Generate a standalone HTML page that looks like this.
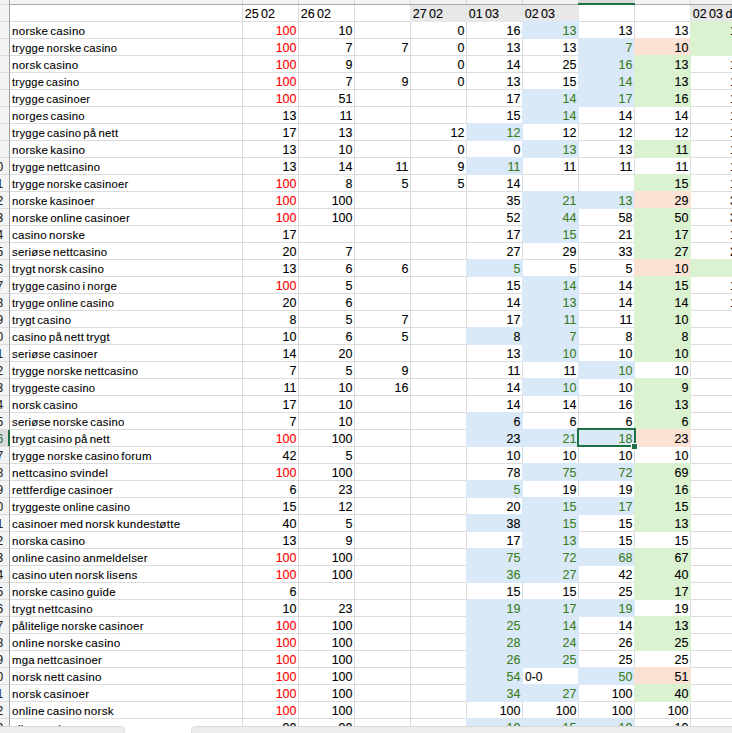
<!DOCTYPE html><html><head><meta charset="utf-8"><style>
html,body{margin:0;padding:0;width:732px;height:733px;overflow:hidden;background:#fff}
body{position:relative;font-family:"Liberation Sans",sans-serif;}
.f{position:absolute}
.t{position:absolute;height:17px;line-height:17px;font-size:12px;white-space:nowrap;color:#000;-webkit-text-stroke:0.1px currentColor}
.n{text-align:right;font-size:12.5px}
.a{word-spacing:-1.4px;font-size:11.5px;letter-spacing:0.24px}
.h{font-size:12.5px;word-spacing:-1px}
</style></head><body>
<div class="f" style="left:10px;top:4px;width:722px;height:1px;background:#dcdcdc"></div>
<div class="f" style="left:10px;top:21px;width:722px;height:1px;background:#dcdcdc"></div>
<div class="f" style="left:10px;top:38px;width:722px;height:1px;background:#dcdcdc"></div>
<div class="f" style="left:10px;top:55px;width:722px;height:1px;background:#dcdcdc"></div>
<div class="f" style="left:10px;top:72px;width:722px;height:1px;background:#dcdcdc"></div>
<div class="f" style="left:10px;top:89px;width:722px;height:1px;background:#dcdcdc"></div>
<div class="f" style="left:10px;top:106px;width:722px;height:1px;background:#dcdcdc"></div>
<div class="f" style="left:10px;top:123px;width:722px;height:1px;background:#dcdcdc"></div>
<div class="f" style="left:10px;top:140px;width:722px;height:1px;background:#dcdcdc"></div>
<div class="f" style="left:10px;top:157px;width:722px;height:1px;background:#dcdcdc"></div>
<div class="f" style="left:10px;top:174px;width:722px;height:1px;background:#dcdcdc"></div>
<div class="f" style="left:10px;top:191px;width:722px;height:1px;background:#dcdcdc"></div>
<div class="f" style="left:10px;top:208px;width:722px;height:1px;background:#dcdcdc"></div>
<div class="f" style="left:10px;top:225px;width:722px;height:1px;background:#dcdcdc"></div>
<div class="f" style="left:10px;top:242px;width:722px;height:1px;background:#dcdcdc"></div>
<div class="f" style="left:10px;top:259px;width:722px;height:1px;background:#dcdcdc"></div>
<div class="f" style="left:10px;top:276px;width:722px;height:1px;background:#dcdcdc"></div>
<div class="f" style="left:10px;top:293px;width:722px;height:1px;background:#dcdcdc"></div>
<div class="f" style="left:10px;top:310px;width:722px;height:1px;background:#dcdcdc"></div>
<div class="f" style="left:10px;top:327px;width:722px;height:1px;background:#dcdcdc"></div>
<div class="f" style="left:10px;top:344px;width:722px;height:1px;background:#dcdcdc"></div>
<div class="f" style="left:10px;top:361px;width:722px;height:1px;background:#dcdcdc"></div>
<div class="f" style="left:10px;top:378px;width:722px;height:1px;background:#dcdcdc"></div>
<div class="f" style="left:10px;top:395px;width:722px;height:1px;background:#dcdcdc"></div>
<div class="f" style="left:10px;top:412px;width:722px;height:1px;background:#dcdcdc"></div>
<div class="f" style="left:10px;top:429px;width:722px;height:1px;background:#dcdcdc"></div>
<div class="f" style="left:10px;top:446px;width:722px;height:1px;background:#dcdcdc"></div>
<div class="f" style="left:10px;top:463px;width:722px;height:1px;background:#dcdcdc"></div>
<div class="f" style="left:10px;top:480px;width:722px;height:1px;background:#dcdcdc"></div>
<div class="f" style="left:10px;top:497px;width:722px;height:1px;background:#dcdcdc"></div>
<div class="f" style="left:10px;top:514px;width:722px;height:1px;background:#dcdcdc"></div>
<div class="f" style="left:10px;top:531px;width:722px;height:1px;background:#dcdcdc"></div>
<div class="f" style="left:10px;top:548px;width:722px;height:1px;background:#dcdcdc"></div>
<div class="f" style="left:10px;top:565px;width:722px;height:1px;background:#dcdcdc"></div>
<div class="f" style="left:10px;top:582px;width:722px;height:1px;background:#dcdcdc"></div>
<div class="f" style="left:10px;top:599px;width:722px;height:1px;background:#dcdcdc"></div>
<div class="f" style="left:10px;top:616px;width:722px;height:1px;background:#dcdcdc"></div>
<div class="f" style="left:10px;top:633px;width:722px;height:1px;background:#dcdcdc"></div>
<div class="f" style="left:10px;top:650px;width:722px;height:1px;background:#dcdcdc"></div>
<div class="f" style="left:10px;top:667px;width:722px;height:1px;background:#dcdcdc"></div>
<div class="f" style="left:10px;top:684px;width:722px;height:1px;background:#dcdcdc"></div>
<div class="f" style="left:10px;top:701px;width:722px;height:1px;background:#dcdcdc"></div>
<div class="f" style="left:10px;top:718px;width:722px;height:1px;background:#dcdcdc"></div>
<div class="f" style="left:10px;top:735px;width:722px;height:1px;background:#dcdcdc"></div>
<div class="f" style="left:242px;top:4px;width:1px;height:729px;background:#dcdcdc"></div>
<div class="f" style="left:298px;top:4px;width:1px;height:729px;background:#dcdcdc"></div>
<div class="f" style="left:354px;top:4px;width:1px;height:729px;background:#dcdcdc"></div>
<div class="f" style="left:410px;top:4px;width:1px;height:729px;background:#dcdcdc"></div>
<div class="f" style="left:466px;top:4px;width:1px;height:729px;background:#dcdcdc"></div>
<div class="f" style="left:522px;top:4px;width:1px;height:729px;background:#dcdcdc"></div>
<div class="f" style="left:578px;top:4px;width:1px;height:729px;background:#dcdcdc"></div>
<div class="f" style="left:634px;top:4px;width:1px;height:729px;background:#dcdcdc"></div>
<div class="f" style="left:690px;top:4px;width:1px;height:729px;background:#dcdcdc"></div>
<div class="f" style="left:410px;top:4px;width:57px;height:18px;background:#e8e8e8"></div>
<div class="f" style="left:466px;top:4px;width:57px;height:18px;background:#e8e8e8"></div>
<div class="f" style="left:522px;top:4px;width:57px;height:18px;background:#e8e8e8"></div>
<div class="f" style="left:690px;top:4px;width:57px;height:18px;background:#e8e8e8"></div>
<div class="f" style="left:522px;top:21px;width:57px;height:18px;background:#dae9f8"></div>
<div class="f" style="left:578px;top:38px;width:57px;height:18px;background:#dae9f8"></div>
<div class="f" style="left:634px;top:38px;width:57px;height:18px;background:#fbe2d5"></div>
<div class="f" style="left:578px;top:55px;width:57px;height:18px;background:#dae9f8"></div>
<div class="f" style="left:634px;top:55px;width:57px;height:18px;background:#daf2d0"></div>
<div class="f" style="left:578px;top:72px;width:57px;height:18px;background:#dae9f8"></div>
<div class="f" style="left:634px;top:72px;width:57px;height:18px;background:#daf2d0"></div>
<div class="f" style="left:522px;top:89px;width:57px;height:18px;background:#dae9f8"></div>
<div class="f" style="left:578px;top:89px;width:57px;height:18px;background:#dae9f8"></div>
<div class="f" style="left:634px;top:89px;width:57px;height:18px;background:#daf2d0"></div>
<div class="f" style="left:522px;top:106px;width:57px;height:18px;background:#dae9f8"></div>
<div class="f" style="left:466px;top:123px;width:57px;height:18px;background:#dae9f8"></div>
<div class="f" style="left:522px;top:140px;width:57px;height:18px;background:#dae9f8"></div>
<div class="f" style="left:634px;top:140px;width:57px;height:18px;background:#daf2d0"></div>
<div class="f" style="left:466px;top:157px;width:57px;height:18px;background:#dae9f8"></div>
<div class="f" style="left:634px;top:174px;width:57px;height:18px;background:#daf2d0"></div>
<div class="f" style="left:522px;top:191px;width:57px;height:18px;background:#dae9f8"></div>
<div class="f" style="left:578px;top:191px;width:57px;height:18px;background:#dae9f8"></div>
<div class="f" style="left:634px;top:191px;width:57px;height:18px;background:#fbe2d5"></div>
<div class="f" style="left:522px;top:208px;width:57px;height:18px;background:#dae9f8"></div>
<div class="f" style="left:634px;top:208px;width:57px;height:18px;background:#daf2d0"></div>
<div class="f" style="left:522px;top:225px;width:57px;height:18px;background:#dae9f8"></div>
<div class="f" style="left:634px;top:225px;width:57px;height:18px;background:#daf2d0"></div>
<div class="f" style="left:634px;top:242px;width:57px;height:18px;background:#daf2d0"></div>
<div class="f" style="left:466px;top:259px;width:57px;height:18px;background:#dae9f8"></div>
<div class="f" style="left:634px;top:259px;width:57px;height:18px;background:#fbe2d5"></div>
<div class="f" style="left:522px;top:276px;width:57px;height:18px;background:#dae9f8"></div>
<div class="f" style="left:634px;top:276px;width:57px;height:18px;background:#daf2d0"></div>
<div class="f" style="left:522px;top:293px;width:57px;height:18px;background:#dae9f8"></div>
<div class="f" style="left:634px;top:293px;width:57px;height:18px;background:#daf2d0"></div>
<div class="f" style="left:522px;top:310px;width:57px;height:18px;background:#dae9f8"></div>
<div class="f" style="left:634px;top:310px;width:57px;height:18px;background:#daf2d0"></div>
<div class="f" style="left:466px;top:327px;width:57px;height:18px;background:#dae9f8"></div>
<div class="f" style="left:522px;top:327px;width:57px;height:18px;background:#dae9f8"></div>
<div class="f" style="left:634px;top:327px;width:57px;height:18px;background:#daf2d0"></div>
<div class="f" style="left:522px;top:344px;width:57px;height:18px;background:#dae9f8"></div>
<div class="f" style="left:634px;top:344px;width:57px;height:18px;background:#daf2d0"></div>
<div class="f" style="left:578px;top:361px;width:57px;height:18px;background:#dae9f8"></div>
<div class="f" style="left:522px;top:378px;width:57px;height:18px;background:#dae9f8"></div>
<div class="f" style="left:634px;top:378px;width:57px;height:18px;background:#daf2d0"></div>
<div class="f" style="left:634px;top:395px;width:57px;height:18px;background:#daf2d0"></div>
<div class="f" style="left:466px;top:412px;width:57px;height:18px;background:#dae9f8"></div>
<div class="f" style="left:634px;top:412px;width:57px;height:18px;background:#daf2d0"></div>
<div class="f" style="left:466px;top:429px;width:57px;height:18px;background:#dae9f8"></div>
<div class="f" style="left:522px;top:429px;width:57px;height:18px;background:#dae9f8"></div>
<div class="f" style="left:578px;top:429px;width:57px;height:18px;background:#dae9f8"></div>
<div class="f" style="left:634px;top:429px;width:57px;height:18px;background:#fbe2d5"></div>
<div class="f" style="left:522px;top:463px;width:57px;height:18px;background:#dae9f8"></div>
<div class="f" style="left:578px;top:463px;width:57px;height:18px;background:#dae9f8"></div>
<div class="f" style="left:634px;top:463px;width:57px;height:18px;background:#daf2d0"></div>
<div class="f" style="left:466px;top:480px;width:57px;height:18px;background:#dae9f8"></div>
<div class="f" style="left:634px;top:480px;width:57px;height:18px;background:#daf2d0"></div>
<div class="f" style="left:522px;top:497px;width:57px;height:18px;background:#dae9f8"></div>
<div class="f" style="left:578px;top:497px;width:57px;height:18px;background:#dae9f8"></div>
<div class="f" style="left:634px;top:497px;width:57px;height:18px;background:#daf2d0"></div>
<div class="f" style="left:466px;top:514px;width:57px;height:18px;background:#dae9f8"></div>
<div class="f" style="left:522px;top:514px;width:57px;height:18px;background:#dae9f8"></div>
<div class="f" style="left:634px;top:514px;width:57px;height:18px;background:#daf2d0"></div>
<div class="f" style="left:522px;top:531px;width:57px;height:18px;background:#dae9f8"></div>
<div class="f" style="left:466px;top:548px;width:57px;height:18px;background:#dae9f8"></div>
<div class="f" style="left:522px;top:548px;width:57px;height:18px;background:#dae9f8"></div>
<div class="f" style="left:578px;top:548px;width:57px;height:18px;background:#dae9f8"></div>
<div class="f" style="left:634px;top:548px;width:57px;height:18px;background:#daf2d0"></div>
<div class="f" style="left:466px;top:565px;width:57px;height:18px;background:#dae9f8"></div>
<div class="f" style="left:522px;top:565px;width:57px;height:18px;background:#dae9f8"></div>
<div class="f" style="left:634px;top:565px;width:57px;height:18px;background:#daf2d0"></div>
<div class="f" style="left:634px;top:582px;width:57px;height:18px;background:#daf2d0"></div>
<div class="f" style="left:466px;top:599px;width:57px;height:18px;background:#dae9f8"></div>
<div class="f" style="left:522px;top:599px;width:57px;height:18px;background:#dae9f8"></div>
<div class="f" style="left:578px;top:599px;width:57px;height:18px;background:#dae9f8"></div>
<div class="f" style="left:466px;top:616px;width:57px;height:18px;background:#dae9f8"></div>
<div class="f" style="left:522px;top:616px;width:57px;height:18px;background:#dae9f8"></div>
<div class="f" style="left:634px;top:616px;width:57px;height:18px;background:#daf2d0"></div>
<div class="f" style="left:466px;top:633px;width:57px;height:18px;background:#dae9f8"></div>
<div class="f" style="left:522px;top:633px;width:57px;height:18px;background:#dae9f8"></div>
<div class="f" style="left:634px;top:633px;width:57px;height:18px;background:#daf2d0"></div>
<div class="f" style="left:466px;top:650px;width:57px;height:18px;background:#dae9f8"></div>
<div class="f" style="left:522px;top:650px;width:57px;height:18px;background:#dae9f8"></div>
<div class="f" style="left:466px;top:667px;width:57px;height:18px;background:#dae9f8"></div>
<div class="f" style="left:578px;top:667px;width:57px;height:18px;background:#dae9f8"></div>
<div class="f" style="left:634px;top:667px;width:57px;height:18px;background:#fbe2d5"></div>
<div class="f" style="left:466px;top:684px;width:57px;height:18px;background:#dae9f8"></div>
<div class="f" style="left:522px;top:684px;width:57px;height:18px;background:#dae9f8"></div>
<div class="f" style="left:634px;top:684px;width:57px;height:18px;background:#daf2d0"></div>
<div class="f" style="left:466px;top:718px;width:57px;height:18px;background:#dae9f8"></div>
<div class="f" style="left:522px;top:718px;width:57px;height:18px;background:#dae9f8"></div>
<div class="f" style="left:578px;top:718px;width:57px;height:18px;background:#dae9f8"></div>
<div class="f" style="left:690px;top:21px;width:57px;height:18px;background:#daf2d0"></div>
<div class="f" style="left:690px;top:38px;width:57px;height:18px;background:#daf2d0"></div>
<div class="f" style="left:690px;top:259px;width:57px;height:18px;background:#daf2d0"></div>
<div class="t h" style="left:244.7px;top:6px">25 02</div>
<div class="t h" style="left:300.7px;top:6px">26 02</div>
<div class="t h" style="left:412.7px;top:6px">27 02</div>
<div class="t h" style="left:468.7px;top:6px">01 03</div>
<div class="t h" style="left:524.7px;top:6px">02 03</div>
<div class="t h" style="left:692.7px;top:6px">02 03 d</div>
<div class="t a" style="left:12px;top:23px;transform:scaleX(1.0084);transform-origin:0 0;">norske casino</div>
<div class="t a" style="left:12px;top:40px;transform:scaleX(0.9740);transform-origin:0 0;">trygge norske casino</div>
<div class="t a" style="left:12px;top:57px;transform:scaleX(1.0061);transform-origin:0 0;">norsk casino</div>
<div class="t a" style="left:12px;top:74px;transform:scaleX(0.9598);transform-origin:0 0;">trygge casino</div>
<div class="t a" style="left:12px;top:91px;transform:scaleX(0.9686);transform-origin:0 0;">trygge casinoer</div>
<div class="t a" style="left:12px;top:108px;transform:scaleX(0.9945);transform-origin:0 0;">norges casino</div>
<div class="t a" style="left:12px;top:125px;transform:scaleX(0.9878);transform-origin:0 0;">trygge casino på nett</div>
<div class="t a" style="left:12px;top:142px;transform:scaleX(1.0084);transform-origin:0 0;">norske kasino</div>
<div class="t a" style="left:12px;top:159px;transform:scaleX(0.9777);transform-origin:0 0;">trygge nettcasino</div>
<div class="t a" style="left:12px;top:176px;transform:scaleX(0.9796);transform-origin:0 0;">trygge norske casinoer</div>
<div class="t a" style="left:12px;top:193px;transform:scaleX(0.9927);transform-origin:0 0;">norske kasinoer</div>
<div class="t a" style="left:12px;top:210px;transform:scaleX(1.0043);transform-origin:0 0;">norske online casinoer</div>
<div class="t a" style="left:12px;top:227px;transform:scaleX(1.0084);transform-origin:0 0;">casino norske</div>
<div class="t a" style="left:12px;top:244px;transform:scaleX(0.9916);transform-origin:0 0;">seriøse nettcasino</div>
<div class="t a" style="left:12px;top:261px;transform:scaleX(1.0055);transform-origin:0 0;">trygt norsk casino</div>
<div class="t a" style="left:12px;top:278px;transform:scaleX(0.9766);transform-origin:0 0;">trygge casino i norge</div>
<div class="t a" style="left:12px;top:295px;transform:scaleX(0.9817);transform-origin:0 0;">trygge online casino</div>
<div class="t a" style="left:12px;top:312px;transform:scaleX(0.9849);transform-origin:0 0;">trygt casino</div>
<div class="t a" style="left:12px;top:329px;transform:scaleX(1.0010);transform-origin:0 0;">casino på nett trygt</div>
<div class="t a" style="left:12px;top:346px;transform:scaleX(0.9872);transform-origin:0 0;">seriøse casinoer</div>
<div class="t a" style="left:12px;top:363px;transform:scaleX(0.9851);transform-origin:0 0;">trygge norske nettcasino</div>
<div class="t a" style="left:12px;top:380px;transform:scaleX(0.9662);transform-origin:0 0;">tryggeste casino</div>
<div class="t a" style="left:12px;top:397px;transform:scaleX(0.9985);transform-origin:0 0;">norsk casino</div>
<div class="t a" style="left:12px;top:414px;transform:scaleX(0.9859);transform-origin:0 0;">seriøse norske casino</div>
<div class="t a" style="left:12px;top:431px;transform:scaleX(1.0010);transform-origin:0 0;">trygt casino på nett</div>
<div class="t a" style="left:12px;top:448px;transform:scaleX(0.9921);transform-origin:0 0;">trygge norske casino forum</div>
<div class="t a" style="left:12px;top:465px;transform:scaleX(1.0183);transform-origin:0 0;">nettcasino svindel</div>
<div class="t a" style="left:12px;top:482px;transform:scaleX(0.9930);transform-origin:0 0;">rettferdige casinoer</div>
<div class="t a" style="left:12px;top:499px;transform:scaleX(0.9833);transform-origin:0 0;">tryggeste online casino</div>
<div class="t a" style="left:12px;top:516px;transform:scaleX(1.0103);transform-origin:0 0;">casinoer med norsk kundestøtte</div>
<div class="t a" style="left:12px;top:533px;transform:scaleX(1.0084);transform-origin:0 0;">norska casino</div>
<div class="t a" style="left:12px;top:550px;transform:scaleX(0.9971);transform-origin:0 0;">online casino anmeldelser</div>
<div class="t a" style="left:12px;top:567px;transform:scaleX(1.0105);transform-origin:0 0;">casino uten norsk lisens</div>
<div class="t a" style="left:12px;top:584px;transform:scaleX(0.9971);transform-origin:0 0;">norske casino guide</div>
<div class="t a" style="left:12px;top:601px;transform:scaleX(1.0050);transform-origin:0 0;">trygt nettcasino</div>
<div class="t a" style="left:12px;top:618px;transform:scaleX(0.9887);transform-origin:0 0;">pålitelige norske casinoer</div>
<div class="t a" style="left:12px;top:635px;transform:scaleX(1.0151);transform-origin:0 0;">online norske casino</div>
<div class="t a" style="left:12px;top:652px;transform:scaleX(0.9944);transform-origin:0 0;">mga nettcasinoer</div>
<div class="t a" style="left:12px;top:669px;transform:scaleX(1.0171);transform-origin:0 0;">norsk nett casino</div>
<div class="t a" style="left:12px;top:686px;transform:scaleX(1.0066);transform-origin:0 0;">norsk casinoer</div>
<div class="t a" style="left:12px;top:703px;transform:scaleX(1.0171);transform-origin:0 0;">online casino norsk</div>
<div class="t a" style="left:12px;top:721px;">sikre casino</div>
<div class="t n" style="right:435.5px;top:23px;color:#ff0000">100</div>
<div class="t n" style="right:379.5px;top:23px;color:#000000">10</div>
<div class="t n" style="right:267.5px;top:23px;color:#000000">0</div>
<div class="t n" style="right:435.5px;top:40px;color:#ff0000">100</div>
<div class="t n" style="right:379.5px;top:40px;color:#000000">7</div>
<div class="t n" style="right:323.5px;top:40px;color:#000000">7</div>
<div class="t n" style="right:267.5px;top:40px;color:#000000">0</div>
<div class="t n" style="right:435.5px;top:57px;color:#ff0000">100</div>
<div class="t n" style="right:379.5px;top:57px;color:#000000">9</div>
<div class="t n" style="right:267.5px;top:57px;color:#000000">0</div>
<div class="t n" style="right:435.5px;top:74px;color:#ff0000">100</div>
<div class="t n" style="right:379.5px;top:74px;color:#000000">7</div>
<div class="t n" style="right:323.5px;top:74px;color:#000000">9</div>
<div class="t n" style="right:267.5px;top:74px;color:#000000">0</div>
<div class="t n" style="right:435.5px;top:91px;color:#ff0000">100</div>
<div class="t n" style="right:379.5px;top:91px;color:#000000">51</div>
<div class="t n" style="right:435.5px;top:108px;color:#000000">13</div>
<div class="t n" style="right:379.5px;top:108px;color:#000000">11</div>
<div class="t n" style="right:435.5px;top:125px;color:#000000">17</div>
<div class="t n" style="right:379.5px;top:125px;color:#000000">13</div>
<div class="t n" style="right:267.5px;top:125px;color:#000000">12</div>
<div class="t n" style="right:435.5px;top:142px;color:#000000">13</div>
<div class="t n" style="right:379.5px;top:142px;color:#000000">10</div>
<div class="t n" style="right:267.5px;top:142px;color:#000000">0</div>
<div class="t n" style="right:435.5px;top:159px;color:#000000">13</div>
<div class="t n" style="right:379.5px;top:159px;color:#000000">14</div>
<div class="t n" style="right:323.5px;top:159px;color:#000000">11</div>
<div class="t n" style="right:267.5px;top:159px;color:#000000">9</div>
<div class="t n" style="right:435.5px;top:176px;color:#ff0000">100</div>
<div class="t n" style="right:379.5px;top:176px;color:#000000">8</div>
<div class="t n" style="right:323.5px;top:176px;color:#000000">5</div>
<div class="t n" style="right:267.5px;top:176px;color:#000000">5</div>
<div class="t n" style="right:435.5px;top:193px;color:#ff0000">100</div>
<div class="t n" style="right:379.5px;top:193px;color:#000000">100</div>
<div class="t n" style="right:435.5px;top:210px;color:#ff0000">100</div>
<div class="t n" style="right:379.5px;top:210px;color:#000000">100</div>
<div class="t n" style="right:435.5px;top:227px;color:#000000">17</div>
<div class="t n" style="right:435.5px;top:244px;color:#000000">20</div>
<div class="t n" style="right:379.5px;top:244px;color:#000000">7</div>
<div class="t n" style="right:435.5px;top:261px;color:#000000">13</div>
<div class="t n" style="right:379.5px;top:261px;color:#000000">6</div>
<div class="t n" style="right:323.5px;top:261px;color:#000000">6</div>
<div class="t n" style="right:435.5px;top:278px;color:#ff0000">100</div>
<div class="t n" style="right:379.5px;top:278px;color:#000000">5</div>
<div class="t n" style="right:435.5px;top:295px;color:#000000">20</div>
<div class="t n" style="right:379.5px;top:295px;color:#000000">6</div>
<div class="t n" style="right:435.5px;top:312px;color:#000000">8</div>
<div class="t n" style="right:379.5px;top:312px;color:#000000">5</div>
<div class="t n" style="right:323.5px;top:312px;color:#000000">7</div>
<div class="t n" style="right:435.5px;top:329px;color:#000000">10</div>
<div class="t n" style="right:379.5px;top:329px;color:#000000">6</div>
<div class="t n" style="right:323.5px;top:329px;color:#000000">5</div>
<div class="t n" style="right:435.5px;top:346px;color:#000000">14</div>
<div class="t n" style="right:379.5px;top:346px;color:#000000">20</div>
<div class="t n" style="right:435.5px;top:363px;color:#000000">7</div>
<div class="t n" style="right:379.5px;top:363px;color:#000000">5</div>
<div class="t n" style="right:323.5px;top:363px;color:#000000">9</div>
<div class="t n" style="right:435.5px;top:380px;color:#000000">11</div>
<div class="t n" style="right:379.5px;top:380px;color:#000000">10</div>
<div class="t n" style="right:323.5px;top:380px;color:#000000">16</div>
<div class="t n" style="right:435.5px;top:397px;color:#000000">17</div>
<div class="t n" style="right:379.5px;top:397px;color:#000000">10</div>
<div class="t n" style="right:435.5px;top:414px;color:#000000">7</div>
<div class="t n" style="right:379.5px;top:414px;color:#000000">10</div>
<div class="t n" style="right:435.5px;top:431px;color:#ff0000">100</div>
<div class="t n" style="right:379.5px;top:431px;color:#000000">100</div>
<div class="t n" style="right:435.5px;top:448px;color:#000000">42</div>
<div class="t n" style="right:379.5px;top:448px;color:#000000">5</div>
<div class="t n" style="right:435.5px;top:465px;color:#ff0000">100</div>
<div class="t n" style="right:379.5px;top:465px;color:#000000">100</div>
<div class="t n" style="right:435.5px;top:482px;color:#000000">6</div>
<div class="t n" style="right:379.5px;top:482px;color:#000000">23</div>
<div class="t n" style="right:435.5px;top:499px;color:#000000">15</div>
<div class="t n" style="right:379.5px;top:499px;color:#000000">12</div>
<div class="t n" style="right:435.5px;top:516px;color:#000000">40</div>
<div class="t n" style="right:379.5px;top:516px;color:#000000">5</div>
<div class="t n" style="right:435.5px;top:533px;color:#000000">13</div>
<div class="t n" style="right:379.5px;top:533px;color:#000000">9</div>
<div class="t n" style="right:435.5px;top:550px;color:#ff0000">100</div>
<div class="t n" style="right:379.5px;top:550px;color:#000000">100</div>
<div class="t n" style="right:435.5px;top:567px;color:#ff0000">100</div>
<div class="t n" style="right:379.5px;top:567px;color:#000000">100</div>
<div class="t n" style="right:435.5px;top:584px;color:#000000">6</div>
<div class="t n" style="right:435.5px;top:601px;color:#000000">10</div>
<div class="t n" style="right:379.5px;top:601px;color:#000000">23</div>
<div class="t n" style="right:435.5px;top:618px;color:#ff0000">100</div>
<div class="t n" style="right:379.5px;top:618px;color:#000000">100</div>
<div class="t n" style="right:435.5px;top:635px;color:#ff0000">100</div>
<div class="t n" style="right:379.5px;top:635px;color:#000000">100</div>
<div class="t n" style="right:435.5px;top:652px;color:#ff0000">100</div>
<div class="t n" style="right:379.5px;top:652px;color:#000000">100</div>
<div class="t n" style="right:435.5px;top:669px;color:#ff0000">100</div>
<div class="t n" style="right:379.5px;top:669px;color:#000000">100</div>
<div class="t n" style="right:435.5px;top:686px;color:#ff0000">100</div>
<div class="t n" style="right:379.5px;top:686px;color:#000000">100</div>
<div class="t n" style="right:435.5px;top:703px;color:#ff0000">100</div>
<div class="t n" style="right:379.5px;top:703px;color:#000000">100</div>
<div class="t n" style="right:435.5px;top:720px;color:#000000">99</div>
<div class="t n" style="right:379.5px;top:720px;color:#000000">99</div>
<div class="t n" style="right:211.5px;top:23px;color:#000000">16</div>
<div class="t n" style="right:155.5px;top:23px;color:#3a7d22">13</div>
<div class="t n" style="right:99.5px;top:23px;color:#000000">13</div>
<div class="t n" style="right:43.5px;top:23px;color:#000000">13</div>
<div class="t n" style="right:211.5px;top:40px;color:#000000">13</div>
<div class="t n" style="right:155.5px;top:40px;color:#000000">13</div>
<div class="t n" style="right:99.5px;top:40px;color:#3a7d22">7</div>
<div class="t n" style="right:43.5px;top:40px;color:#000000">10</div>
<div class="t n" style="right:211.5px;top:57px;color:#000000">14</div>
<div class="t n" style="right:155.5px;top:57px;color:#000000">25</div>
<div class="t n" style="right:99.5px;top:57px;color:#3a7d22">16</div>
<div class="t n" style="right:43.5px;top:57px;color:#000000">13</div>
<div class="t n" style="right:211.5px;top:74px;color:#000000">13</div>
<div class="t n" style="right:155.5px;top:74px;color:#000000">15</div>
<div class="t n" style="right:99.5px;top:74px;color:#3a7d22">14</div>
<div class="t n" style="right:43.5px;top:74px;color:#000000">13</div>
<div class="t n" style="right:211.5px;top:91px;color:#000000">17</div>
<div class="t n" style="right:155.5px;top:91px;color:#3a7d22">14</div>
<div class="t n" style="right:99.5px;top:91px;color:#3a7d22">17</div>
<div class="t n" style="right:43.5px;top:91px;color:#000000">16</div>
<div class="t n" style="right:211.5px;top:108px;color:#000000">15</div>
<div class="t n" style="right:155.5px;top:108px;color:#3a7d22">14</div>
<div class="t n" style="right:99.5px;top:108px;color:#000000">14</div>
<div class="t n" style="right:43.5px;top:108px;color:#000000">14</div>
<div class="t n" style="right:211.5px;top:125px;color:#3a7d22">12</div>
<div class="t n" style="right:155.5px;top:125px;color:#000000">12</div>
<div class="t n" style="right:99.5px;top:125px;color:#000000">12</div>
<div class="t n" style="right:43.5px;top:125px;color:#000000">12</div>
<div class="t n" style="right:211.5px;top:142px;color:#000000">0</div>
<div class="t n" style="right:155.5px;top:142px;color:#3a7d22">13</div>
<div class="t n" style="right:99.5px;top:142px;color:#000000">13</div>
<div class="t n" style="right:43.5px;top:142px;color:#000000">11</div>
<div class="t n" style="right:211.5px;top:159px;color:#3a7d22">11</div>
<div class="t n" style="right:155.5px;top:159px;color:#000000">11</div>
<div class="t n" style="right:99.5px;top:159px;color:#000000">11</div>
<div class="t n" style="right:43.5px;top:159px;color:#000000">11</div>
<div class="t n" style="right:211.5px;top:176px;color:#000000">14</div>
<div class="t n" style="right:43.5px;top:176px;color:#000000">15</div>
<div class="t n" style="right:211.5px;top:193px;color:#000000">35</div>
<div class="t n" style="right:155.5px;top:193px;color:#3a7d22">21</div>
<div class="t n" style="right:99.5px;top:193px;color:#3a7d22">13</div>
<div class="t n" style="right:43.5px;top:193px;color:#000000">29</div>
<div class="t n" style="right:211.5px;top:210px;color:#000000">52</div>
<div class="t n" style="right:155.5px;top:210px;color:#3a7d22">44</div>
<div class="t n" style="right:99.5px;top:210px;color:#000000">58</div>
<div class="t n" style="right:43.5px;top:210px;color:#000000">50</div>
<div class="t n" style="right:211.5px;top:227px;color:#000000">17</div>
<div class="t n" style="right:155.5px;top:227px;color:#3a7d22">15</div>
<div class="t n" style="right:99.5px;top:227px;color:#000000">21</div>
<div class="t n" style="right:43.5px;top:227px;color:#000000">17</div>
<div class="t n" style="right:211.5px;top:244px;color:#000000">27</div>
<div class="t n" style="right:155.5px;top:244px;color:#000000">29</div>
<div class="t n" style="right:99.5px;top:244px;color:#000000">33</div>
<div class="t n" style="right:43.5px;top:244px;color:#000000">27</div>
<div class="t n" style="right:211.5px;top:261px;color:#3a7d22">5</div>
<div class="t n" style="right:155.5px;top:261px;color:#000000">5</div>
<div class="t n" style="right:99.5px;top:261px;color:#000000">5</div>
<div class="t n" style="right:43.5px;top:261px;color:#000000">10</div>
<div class="t n" style="right:211.5px;top:278px;color:#000000">15</div>
<div class="t n" style="right:155.5px;top:278px;color:#3a7d22">14</div>
<div class="t n" style="right:99.5px;top:278px;color:#000000">14</div>
<div class="t n" style="right:43.5px;top:278px;color:#000000">15</div>
<div class="t n" style="right:211.5px;top:295px;color:#000000">14</div>
<div class="t n" style="right:155.5px;top:295px;color:#3a7d22">13</div>
<div class="t n" style="right:99.5px;top:295px;color:#000000">14</div>
<div class="t n" style="right:43.5px;top:295px;color:#000000">14</div>
<div class="t n" style="right:211.5px;top:312px;color:#000000">17</div>
<div class="t n" style="right:155.5px;top:312px;color:#3a7d22">11</div>
<div class="t n" style="right:99.5px;top:312px;color:#000000">11</div>
<div class="t n" style="right:43.5px;top:312px;color:#000000">10</div>
<div class="t n" style="right:211.5px;top:329px;color:#000000">8</div>
<div class="t n" style="right:155.5px;top:329px;color:#3a7d22">7</div>
<div class="t n" style="right:99.5px;top:329px;color:#000000">8</div>
<div class="t n" style="right:43.5px;top:329px;color:#000000">8</div>
<div class="t n" style="right:211.5px;top:346px;color:#000000">13</div>
<div class="t n" style="right:155.5px;top:346px;color:#3a7d22">10</div>
<div class="t n" style="right:99.5px;top:346px;color:#000000">10</div>
<div class="t n" style="right:43.5px;top:346px;color:#000000">10</div>
<div class="t n" style="right:211.5px;top:363px;color:#000000">11</div>
<div class="t n" style="right:155.5px;top:363px;color:#000000">11</div>
<div class="t n" style="right:99.5px;top:363px;color:#3a7d22">10</div>
<div class="t n" style="right:43.5px;top:363px;color:#000000">10</div>
<div class="t n" style="right:211.5px;top:380px;color:#000000">14</div>
<div class="t n" style="right:155.5px;top:380px;color:#3a7d22">10</div>
<div class="t n" style="right:99.5px;top:380px;color:#000000">10</div>
<div class="t n" style="right:43.5px;top:380px;color:#000000">9</div>
<div class="t n" style="right:211.5px;top:397px;color:#000000">14</div>
<div class="t n" style="right:155.5px;top:397px;color:#000000">14</div>
<div class="t n" style="right:99.5px;top:397px;color:#000000">16</div>
<div class="t n" style="right:43.5px;top:397px;color:#000000">13</div>
<div class="t n" style="right:211.5px;top:414px;color:#000000">6</div>
<div class="t n" style="right:155.5px;top:414px;color:#000000">6</div>
<div class="t n" style="right:99.5px;top:414px;color:#000000">6</div>
<div class="t n" style="right:43.5px;top:414px;color:#000000">6</div>
<div class="t n" style="right:211.5px;top:431px;color:#000000">23</div>
<div class="t n" style="right:155.5px;top:431px;color:#3a7d22">21</div>
<div class="t n" style="right:99.5px;top:431px;color:#3a7d22">18</div>
<div class="t n" style="right:43.5px;top:431px;color:#000000">23</div>
<div class="t n" style="right:211.5px;top:448px;color:#000000">10</div>
<div class="t n" style="right:155.5px;top:448px;color:#000000">10</div>
<div class="t n" style="right:99.5px;top:448px;color:#000000">10</div>
<div class="t n" style="right:43.5px;top:448px;color:#000000">10</div>
<div class="t n" style="right:211.5px;top:465px;color:#000000">78</div>
<div class="t n" style="right:155.5px;top:465px;color:#3a7d22">75</div>
<div class="t n" style="right:99.5px;top:465px;color:#3a7d22">72</div>
<div class="t n" style="right:43.5px;top:465px;color:#000000">69</div>
<div class="t n" style="right:211.5px;top:482px;color:#3a7d22">5</div>
<div class="t n" style="right:155.5px;top:482px;color:#000000">19</div>
<div class="t n" style="right:99.5px;top:482px;color:#000000">19</div>
<div class="t n" style="right:43.5px;top:482px;color:#000000">16</div>
<div class="t n" style="right:211.5px;top:499px;color:#000000">20</div>
<div class="t n" style="right:155.5px;top:499px;color:#3a7d22">15</div>
<div class="t n" style="right:99.5px;top:499px;color:#3a7d22">17</div>
<div class="t n" style="right:43.5px;top:499px;color:#000000">15</div>
<div class="t n" style="right:211.5px;top:516px;color:#000000">38</div>
<div class="t n" style="right:155.5px;top:516px;color:#3a7d22">15</div>
<div class="t n" style="right:99.5px;top:516px;color:#000000">15</div>
<div class="t n" style="right:43.5px;top:516px;color:#000000">13</div>
<div class="t n" style="right:211.5px;top:533px;color:#000000">17</div>
<div class="t n" style="right:155.5px;top:533px;color:#3a7d22">13</div>
<div class="t n" style="right:99.5px;top:533px;color:#000000">15</div>
<div class="t n" style="right:43.5px;top:533px;color:#000000">15</div>
<div class="t n" style="right:211.5px;top:550px;color:#3a7d22">75</div>
<div class="t n" style="right:155.5px;top:550px;color:#3a7d22">72</div>
<div class="t n" style="right:99.5px;top:550px;color:#3a7d22">68</div>
<div class="t n" style="right:43.5px;top:550px;color:#000000">67</div>
<div class="t n" style="right:211.5px;top:567px;color:#3a7d22">36</div>
<div class="t n" style="right:155.5px;top:567px;color:#3a7d22">27</div>
<div class="t n" style="right:99.5px;top:567px;color:#000000">42</div>
<div class="t n" style="right:43.5px;top:567px;color:#000000">40</div>
<div class="t n" style="right:211.5px;top:584px;color:#000000">15</div>
<div class="t n" style="right:155.5px;top:584px;color:#000000">15</div>
<div class="t n" style="right:99.5px;top:584px;color:#000000">25</div>
<div class="t n" style="right:43.5px;top:584px;color:#000000">17</div>
<div class="t n" style="right:211.5px;top:601px;color:#3a7d22">19</div>
<div class="t n" style="right:155.5px;top:601px;color:#3a7d22">17</div>
<div class="t n" style="right:99.5px;top:601px;color:#3a7d22">19</div>
<div class="t n" style="right:43.5px;top:601px;color:#000000">19</div>
<div class="t n" style="right:211.5px;top:618px;color:#3a7d22">25</div>
<div class="t n" style="right:155.5px;top:618px;color:#3a7d22">14</div>
<div class="t n" style="right:99.5px;top:618px;color:#000000">14</div>
<div class="t n" style="right:43.5px;top:618px;color:#000000">13</div>
<div class="t n" style="right:211.5px;top:635px;color:#3a7d22">28</div>
<div class="t n" style="right:155.5px;top:635px;color:#3a7d22">24</div>
<div class="t n" style="right:99.5px;top:635px;color:#000000">26</div>
<div class="t n" style="right:43.5px;top:635px;color:#000000">25</div>
<div class="t n" style="right:211.5px;top:652px;color:#3a7d22">26</div>
<div class="t n" style="right:155.5px;top:652px;color:#3a7d22">25</div>
<div class="t n" style="right:99.5px;top:652px;color:#000000">25</div>
<div class="t n" style="right:43.5px;top:652px;color:#000000">25</div>
<div class="t n" style="right:211.5px;top:669px;color:#3a7d22">54</div>
<div class="t" style="left:525px;top:669px;color:#000000">0-0</div>
<div class="t n" style="right:99.5px;top:669px;color:#3a7d22">50</div>
<div class="t n" style="right:43.5px;top:669px;color:#000000">51</div>
<div class="t n" style="right:211.5px;top:686px;color:#3a7d22">34</div>
<div class="t n" style="right:155.5px;top:686px;color:#3a7d22">27</div>
<div class="t n" style="right:99.5px;top:686px;color:#000000">100</div>
<div class="t n" style="right:43.5px;top:686px;color:#000000">40</div>
<div class="t n" style="right:211.5px;top:703px;color:#000000">100</div>
<div class="t n" style="right:155.5px;top:703px;color:#000000">100</div>
<div class="t n" style="right:99.5px;top:703px;color:#000000">100</div>
<div class="t n" style="right:43.5px;top:703px;color:#000000">100</div>
<div class="t n" style="right:211.5px;top:720px;color:#3a7d22">19</div>
<div class="t n" style="right:155.5px;top:720px;color:#3a7d22">15</div>
<div class="t n" style="right:99.5px;top:720px;color:#3a7d22">19</div>
<div class="t n" style="right:43.5px;top:720px;color:#000000">19</div>
<div class="t n" style="right:-12px;top:23px;color:#000000">13</div>
<div class="t n" style="right:-12px;top:57px;color:#000000">13</div>
<div class="t n" style="right:-12px;top:74px;color:#000000">13</div>
<div class="t n" style="right:-12px;top:91px;color:#000000">13</div>
<div class="t n" style="right:-12px;top:108px;color:#000000">13</div>
<div class="t n" style="right:-12px;top:125px;color:#000000">13</div>
<div class="t n" style="right:-12px;top:142px;color:#000000">13</div>
<div class="t n" style="right:-12px;top:159px;color:#000000">13</div>
<div class="t n" style="right:-12px;top:176px;color:#000000">13</div>
<div class="t n" style="right:-12px;top:193px;color:#000000">33</div>
<div class="t n" style="right:-12px;top:210px;color:#000000">33</div>
<div class="t n" style="right:-12px;top:227px;color:#000000">13</div>
<div class="t n" style="right:-12px;top:244px;color:#000000">23</div>
<div class="t n" style="right:-12px;top:278px;color:#000000">13</div>
<div class="t n" style="right:-12px;top:295px;color:#000000">13</div>
<div class="f" style="left:0px;top:0px;width:732px;height:4px;background:#f3f3f3"></div>
<div class="f" style="left:9px;top:0px;width:1px;height:4px;background:#d8d8d8"></div>
<div class="f" style="left:242px;top:0px;width:1px;height:4px;background:#d8d8d8"></div>
<div class="f" style="left:298px;top:0px;width:1px;height:4px;background:#d8d8d8"></div>
<div class="f" style="left:354px;top:0px;width:1px;height:4px;background:#d8d8d8"></div>
<div class="f" style="left:410px;top:0px;width:1px;height:4px;background:#d8d8d8"></div>
<div class="f" style="left:466px;top:0px;width:1px;height:4px;background:#d8d8d8"></div>
<div class="f" style="left:522px;top:0px;width:1px;height:4px;background:#d8d8d8"></div>
<div class="f" style="left:578px;top:0px;width:1px;height:4px;background:#d8d8d8"></div>
<div class="f" style="left:634px;top:0px;width:1px;height:4px;background:#d8d8d8"></div>
<div class="f" style="left:690px;top:0px;width:1px;height:4px;background:#d8d8d8"></div>
<div class="f" style="left:578px;top:0px;width:57px;height:3px;background:#d9d9d9"></div>
<div class="f" style="left:0px;top:4px;width:732px;height:1px;background:#a8a8a8"></div>
<div class="f" style="left:578px;top:3px;width:57px;height:2px;background:#1e7145"></div>
<div class="f" style="left:0px;top:5px;width:9px;height:728px;background:#f3f3f3"></div>
<div class="f" style="left:0px;top:4px;width:9px;height:1px;background:#dadada"></div>
<div class="f" style="left:0px;top:21px;width:9px;height:1px;background:#dadada"></div>
<div class="f" style="left:0px;top:38px;width:9px;height:1px;background:#dadada"></div>
<div class="f" style="left:0px;top:55px;width:9px;height:1px;background:#dadada"></div>
<div class="f" style="left:0px;top:72px;width:9px;height:1px;background:#dadada"></div>
<div class="f" style="left:0px;top:89px;width:9px;height:1px;background:#dadada"></div>
<div class="f" style="left:0px;top:106px;width:9px;height:1px;background:#dadada"></div>
<div class="f" style="left:0px;top:123px;width:9px;height:1px;background:#dadada"></div>
<div class="f" style="left:0px;top:140px;width:9px;height:1px;background:#dadada"></div>
<div class="f" style="left:0px;top:157px;width:9px;height:1px;background:#dadada"></div>
<div class="f" style="left:0px;top:174px;width:9px;height:1px;background:#dadada"></div>
<div class="f" style="left:0px;top:191px;width:9px;height:1px;background:#dadada"></div>
<div class="f" style="left:0px;top:208px;width:9px;height:1px;background:#dadada"></div>
<div class="f" style="left:0px;top:225px;width:9px;height:1px;background:#dadada"></div>
<div class="f" style="left:0px;top:242px;width:9px;height:1px;background:#dadada"></div>
<div class="f" style="left:0px;top:259px;width:9px;height:1px;background:#dadada"></div>
<div class="f" style="left:0px;top:276px;width:9px;height:1px;background:#dadada"></div>
<div class="f" style="left:0px;top:293px;width:9px;height:1px;background:#dadada"></div>
<div class="f" style="left:0px;top:310px;width:9px;height:1px;background:#dadada"></div>
<div class="f" style="left:0px;top:327px;width:9px;height:1px;background:#dadada"></div>
<div class="f" style="left:0px;top:344px;width:9px;height:1px;background:#dadada"></div>
<div class="f" style="left:0px;top:361px;width:9px;height:1px;background:#dadada"></div>
<div class="f" style="left:0px;top:378px;width:9px;height:1px;background:#dadada"></div>
<div class="f" style="left:0px;top:395px;width:9px;height:1px;background:#dadada"></div>
<div class="f" style="left:0px;top:412px;width:9px;height:1px;background:#dadada"></div>
<div class="f" style="left:0px;top:429px;width:9px;height:1px;background:#dadada"></div>
<div class="f" style="left:0px;top:446px;width:9px;height:1px;background:#dadada"></div>
<div class="f" style="left:0px;top:463px;width:9px;height:1px;background:#dadada"></div>
<div class="f" style="left:0px;top:480px;width:9px;height:1px;background:#dadada"></div>
<div class="f" style="left:0px;top:497px;width:9px;height:1px;background:#dadada"></div>
<div class="f" style="left:0px;top:514px;width:9px;height:1px;background:#dadada"></div>
<div class="f" style="left:0px;top:531px;width:9px;height:1px;background:#dadada"></div>
<div class="f" style="left:0px;top:548px;width:9px;height:1px;background:#dadada"></div>
<div class="f" style="left:0px;top:565px;width:9px;height:1px;background:#dadada"></div>
<div class="f" style="left:0px;top:582px;width:9px;height:1px;background:#dadada"></div>
<div class="f" style="left:0px;top:599px;width:9px;height:1px;background:#dadada"></div>
<div class="f" style="left:0px;top:616px;width:9px;height:1px;background:#dadada"></div>
<div class="f" style="left:0px;top:633px;width:9px;height:1px;background:#dadada"></div>
<div class="f" style="left:0px;top:650px;width:9px;height:1px;background:#dadada"></div>
<div class="f" style="left:0px;top:667px;width:9px;height:1px;background:#dadada"></div>
<div class="f" style="left:0px;top:684px;width:9px;height:1px;background:#dadada"></div>
<div class="f" style="left:0px;top:701px;width:9px;height:1px;background:#dadada"></div>
<div class="f" style="left:0px;top:718px;width:9px;height:1px;background:#dadada"></div>
<div class="f" style="left:0px;top:735px;width:9px;height:1px;background:#dadada"></div>
<div class="f" style="left:0px;top:430px;width:9px;height:16px;background:#d9d9d9"></div>
<div class="f" style="left:9px;top:0px;width:1px;height:733px;background:#a0a0a0"></div>
<div class="f" style="left:8px;top:430px;width:2px;height:16px;background:#1e7145"></div>
<div class="t" style="left:-3.5px;top:159px;color:#222">0</div>
<div class="t" style="left:-3.5px;top:176px;color:#222">1</div>
<div class="t" style="left:-3.5px;top:193px;color:#222">2</div>
<div class="t" style="left:-3.5px;top:210px;color:#222">3</div>
<div class="t" style="left:-3.5px;top:227px;color:#222">4</div>
<div class="t" style="left:-3.5px;top:244px;color:#222">5</div>
<div class="t" style="left:-3.5px;top:261px;color:#222">6</div>
<div class="t" style="left:-3.5px;top:278px;color:#222">7</div>
<div class="t" style="left:-3.5px;top:295px;color:#222">8</div>
<div class="t" style="left:-3.5px;top:312px;color:#222">9</div>
<div class="t" style="left:-3.5px;top:329px;color:#222">0</div>
<div class="t" style="left:-3.5px;top:346px;color:#222">1</div>
<div class="t" style="left:-3.5px;top:363px;color:#222">2</div>
<div class="t" style="left:-3.5px;top:380px;color:#222">3</div>
<div class="t" style="left:-3.5px;top:397px;color:#222">4</div>
<div class="t" style="left:-3.5px;top:414px;color:#222">5</div>
<div class="t" style="left:-3.5px;top:431px;color:#1e7145">6</div>
<div class="t" style="left:-3.5px;top:448px;color:#222">7</div>
<div class="t" style="left:-3.5px;top:465px;color:#222">8</div>
<div class="t" style="left:-3.5px;top:482px;color:#222">9</div>
<div class="t" style="left:-3.5px;top:499px;color:#222">0</div>
<div class="t" style="left:-3.5px;top:516px;color:#222">1</div>
<div class="t" style="left:-3.5px;top:533px;color:#222">2</div>
<div class="t" style="left:-3.5px;top:550px;color:#222">3</div>
<div class="t" style="left:-3.5px;top:567px;color:#222">4</div>
<div class="t" style="left:-3.5px;top:584px;color:#222">5</div>
<div class="t" style="left:-3.5px;top:601px;color:#222">6</div>
<div class="t" style="left:-3.5px;top:618px;color:#222">7</div>
<div class="t" style="left:-3.5px;top:635px;color:#222">8</div>
<div class="t" style="left:-3.5px;top:652px;color:#222">9</div>
<div class="t" style="left:-3.5px;top:669px;color:#222">0</div>
<div class="t" style="left:-3.5px;top:686px;color:#222">1</div>
<div class="t" style="left:-3.5px;top:703px;color:#222">2</div>
<div class="t" style="left:-3.5px;top:720px;color:#222">3</div>
<div class="f" style="left:577px;top:428px;width:59px;height:2px;background:#1e7145"></div>
<div class="f" style="left:577px;top:445px;width:59px;height:2px;background:#1e7145"></div>
<div class="f" style="left:577px;top:428px;width:2px;height:19px;background:#1e7145"></div>
<div class="f" style="left:634px;top:428px;width:2px;height:19px;background:#1e7145"></div>
<div class="f" style="left:631px;top:443px;width:7px;height:7px;background:#ffffff"></div>
<div class="f" style="left:632px;top:444px;width:5px;height:5px;background:#1e7145"></div>
<div class="f" style="left:0;top:726px;width:124px;height:10px;background:#ededed;border-top-right-radius:5px;border-top:1px solid #d8d8d8;border-right:1px solid #d8d8d8"></div>
<div class="f" style="left:191px;top:726px;width:560px;height:10px;background:#ededed;border-top-left-radius:5px;border-top:1px solid #d8d8d8;border-left:1px solid #d8d8d8"></div>
</body></html>
